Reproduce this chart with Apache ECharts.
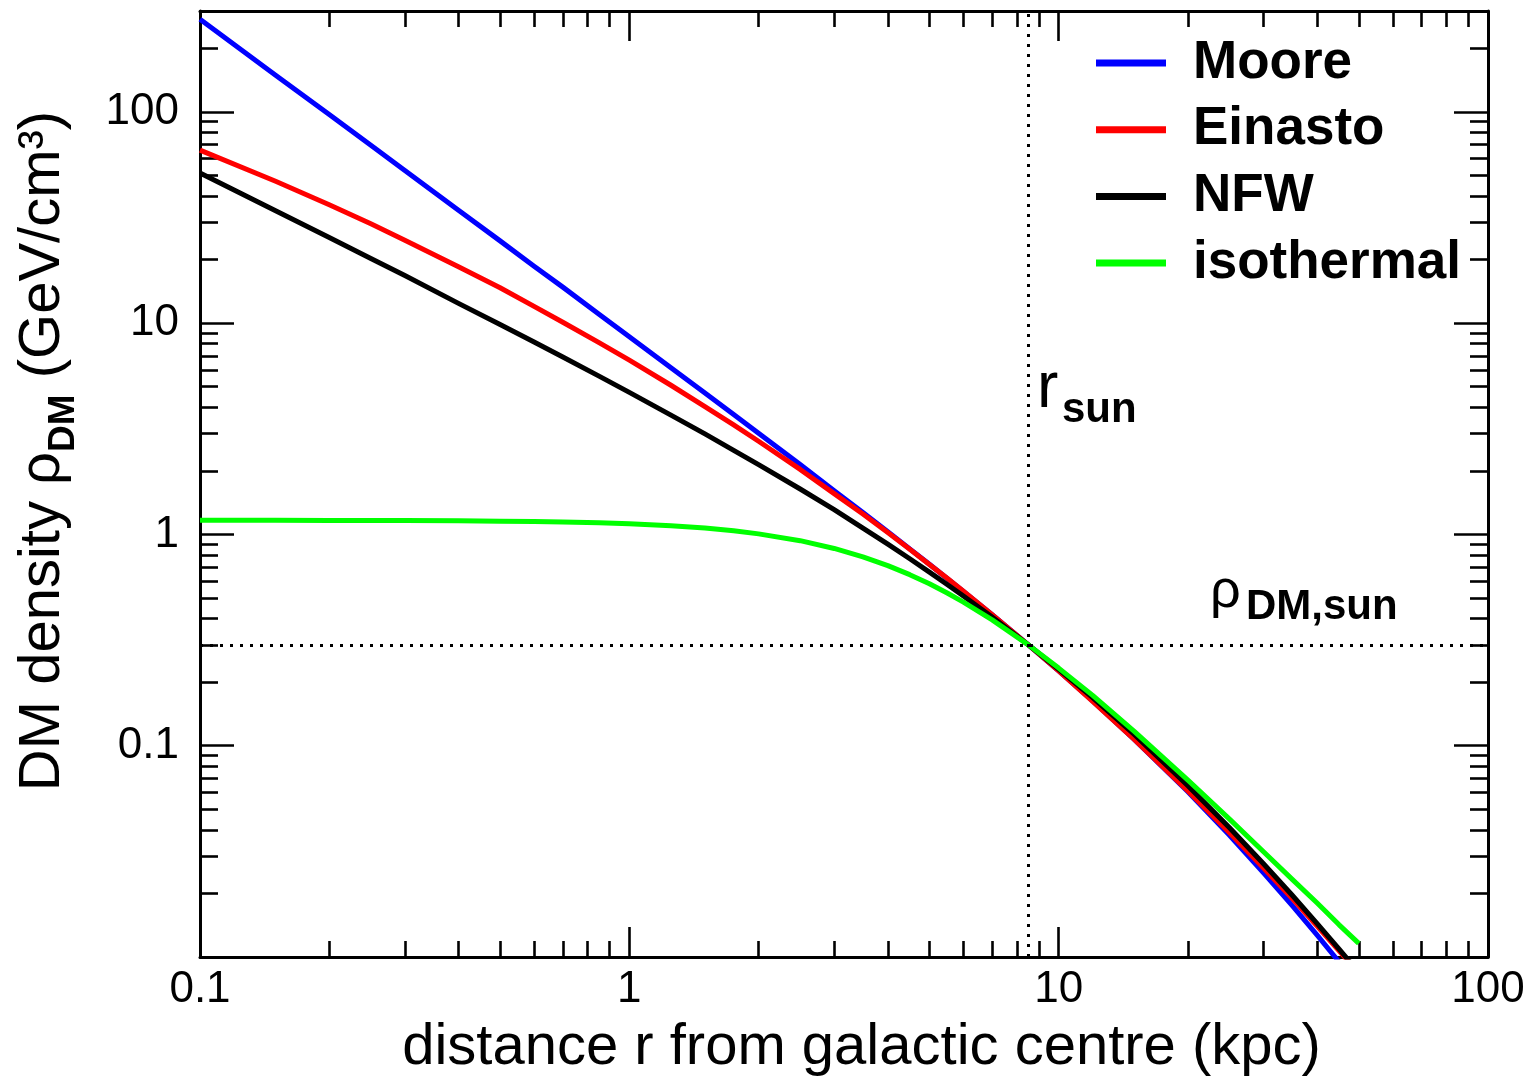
<!DOCTYPE html>
<html><head><meta charset="utf-8">
<script src="https://cdn.jsdelivr.net/npm/echarts@6/dist/echarts.min.js"></script>
<style>html,body{margin:0;padding:0;background:#fff}#c{width:1536px;height:1078px}</style>
</head><body><div id="c"></div>
<script>
// ---- data ----
const radius = [0.1,0.15,0.2,0.25,0.3,0.4,0.5,0.6,0.7,0.85,1,1.25,1.5,1.75,2,2.5,3,3.5,4,4.5,5,5.5,6,7,8.5,10,12,15,20,25,30,35,40,45,50];
const moore = [274,149,97.0,69.4,52.8,34.2,24.5,18.6,14.8,11.0,8.62,6.15,4.67,3.69,3.01,2.14,1.61,1.27,1.03,0.854,0.722,0.619,0.537,0.417,0.300,0.226,0.163,0.107,0.0605,0.0377,0.0250,0.0175,0.0127,0.00947,0.00725];
const einasto = [65.9,46.9,36.3,29.5,24.7,18.5,14.7,12.0,10.1,8.09,6.68,5.08,4.03,3.30,2.76,2.03,1.56,1.25,1.02,0.851,0.721,0.620,0.538,0.417,0.300,0.226,0.162,0.107,0.0610,0.0387,0.0264,0.0189,0.0140,0.0107,0.0084];
const nfw = [51.3,34.0,25.4,20.2,16.8,12.4,9.86,8.14,6.91,5.61,4.70,3.67,2.99,2.50,2.14,1.64,1.31,1.07,0.899,0.767,0.663,0.579,0.511,0.406,0.300,0.230,0.169,0.113,0.0647,0.0409,0.0276,0.0196,0.0144,0.0109,0.00845];
const isothermal = [1.167,1.166,1.165,1.164,1.163,1.160,1.155,1.150,1.145,1.134,1.122,1.098,1.071,1.040,1.006,0.934,0.858,0.783,0.712,0.645,0.584,0.528,0.478,0.394,0.300,0.233,0.173,0.117,0.0687,0.0449,0.0315,0.0233,0.0180,0.0142,0.0116];
const seriesNames = ['Moore','Einasto','NFW','isothermal'];
const seriesColors = ['#0000ff','#ff0000','#000000','#00ff00'];
const xTickValues = [0.1,1,10,100];
const xTickLabels = ['0.1','1','10','100'];
const yTickValues = [0.1,1,10,100];
const yTickLabels = ['0.1','1','10','100'];
const xMinorValues = [0.2,0.3,0.4,0.5,0.6,0.7,0.8,0.9,2,3,4,5,6,7,8,9,20,30,40,50,60,70,80,90];
const yMinorValues = [0.02,0.03,0.04,0.05,0.06,0.07,0.08,0.09,0.2,0.3,0.4,0.5,0.6,0.7,0.8,0.9,2,3,4,5,6,7,8,9,20,30,40,50,60,70,80,90,200];
const xMin = 0.1, xMax = 100, yMin = 0.01, yMax = 300;
const rSun = 8.5, rhoSun = 0.3;
const xTitle = 'distance r from galactic centre (kpc)';

const FONT = "'Liberation Sans', Arial, Helvetica, sans-serif";
const chart = echarts.init(document.getElementById('c'), null, {renderer:'canvas'});

function labelFmt(vals, labs) {
  return function (v) {
    for (let i = 0; i < vals.length; i++) {
      if (Math.abs(Math.log10(v / vals[i])) < 1e-6) return labs[i];
    }
    return '';
  };
}
const axisLineStyle = {color:'#000', width:3};
function logAxis(pos, showLabels, isX) {
  const a = {
    type:'log', logBase:10, position:pos,
    min: isX ? xMin : yMin, max: isX ? xMax : yMax,
    axisLine:{show:true, onZero:false, lineStyle:axisLineStyle},
    axisTick:{show:false}, splitLine:{show:false}, minorTick:{show:false},
    axisLabel:{show:showLabels}
  };
  if (showLabels) {
    a.axisLabel = {show:true, color:'#000', fontFamily:FONT, fontSize:44,
      margin: isX ? 11 : 21,
      formatter: isX ? labelFmt(xTickValues, xTickLabels) : labelFmt(yTickValues, yTickLabels)};
  }
  return a;
}
function tickAxis(pos, vals, len, isX) {
  return {
    type:'value', position:pos,
    min: Math.log10(isX ? xMin : yMin), max: Math.log10(isX ? xMax : yMax),
    axisLine:{show:false, onZero:false},
    axisLabel:{show:false}, splitLine:{show:false},
    axisTick:{show:true, inside:true, length:len, lineStyle:{color:'#000', width:2.6},
      customValues: vals.map(v => Math.log10(v))}
  };
}

const xAxes = [
  Object.assign(logAxis('bottom', true, true), {
    name: xTitle, nameLocation:'middle', nameGap:66,
    nameTextStyle:{fontSize:58, lineHeight:50, fontFamily:FONT, color:'#000', padding:[0,0,0,35]}
  }),
  logAxis('top', false, true),
  tickAxis('bottom', xTickValues, 30, true),
  tickAxis('bottom', xMinorValues, 16, true),
  tickAxis('top', xTickValues, 30, true),
  tickAxis('top', xMinorValues, 16, true)
];
const yAxes = [
  logAxis('left', true, false),
  logAxis('right', false, false),
  tickAxis('left', yTickValues, 34, false),
  tickAxis('left', yMinorValues, 18, false),
  tickAxis('right', yTickValues, 34, false),
  tickAxis('right', yMinorValues, 18, false)
];

const allValues = [moore, einasto, nfw, isothermal];
const series = seriesNames.map((name, k) => {
  const s = {
    name, type:'line', xAxisIndex:0, yAxisIndex:0,
    data: radius.map((r, i) => [r, allValues[k][i]]),
    showSymbol:false, symbol:'none', smooth:false, clip:true,
    color: seriesColors[k],
    lineStyle:{color:seriesColors[k], width:5, join:'round'}
  };
  if (k === 0) {
    s.markLine = {
      silent:true, symbol:['none','none'], label:{show:false}, animation:false,
      lineStyle:{type:[3,7], width:3, color:'#000'},
      data:[{xAxis:rSun},{yAxis:rhoSun}]
    };
  }
  return s;
});

const option = {
  backgroundColor:'#fff',
  animation:false,
  grid:{left:200, right:48, top:11, bottom:121, containLabel:false, outerBoundsMode:'none'},
  xAxis: xAxes,
  yAxis: yAxes,
  legend:{
    data: seriesNames, orient:'vertical', left:1096, top:35, padding:0,
    itemWidth:70, itemHeight:7, itemGap:10.7, icon:'rect', selectedMode:false,
    textStyle:{fontSize:53, fontWeight:'bold', fontFamily:FONT, color:'#000', lineHeight:56, padding:[0,0,0,22]}
  },
  graphic:[
    { type:'text', x:43, y:451, rotation:Math.PI/2, silent:true,
      style:{ text:'{n|DM density ρ}{s|DM}{n| (GeV/cm³)}', align:'center', verticalAlign:'middle',
        rich:{ n:{fontSize:58, fontFamily:FONT, fill:'#000', lineHeight:64},
               s:{fontSize:37, fontFamily:FONT, fontWeight:'bold', fill:'#000', lineHeight:23, height:23, verticalAlign:'bottom'} } } },
    { type:'text', x:1037, y:354, silent:true,
      style:{ text:'r', align:'left', verticalAlign:'top', fontSize:64, fontFamily:FONT, fill:'#000', lineHeight:70 } },
    { type:'text', x:1062, y:425 - 0.3465 * 42, silent:true,
      style:{ text:'sun', align:'left', verticalAlign:'middle', fontSize:42, fontWeight:'bold', fontFamily:FONT, fill:'#000' } },
    { type:'text', x:1210, y:562, silent:true,
      style:{ text:'ρ', align:'left', verticalAlign:'top', fontSize:54, fontFamily:FONT, fill:'#000', lineHeight:60 } },
    { type:'text', x:1246, y:622 - 0.3465 * 42, silent:true,
      style:{ text:'DM,sun', align:'left', verticalAlign:'middle', fontSize:42, fontWeight:'bold', fontFamily:FONT, fill:'#000' } }
  ],
  series
};
chart.setOption(option);
</script></body></html>
